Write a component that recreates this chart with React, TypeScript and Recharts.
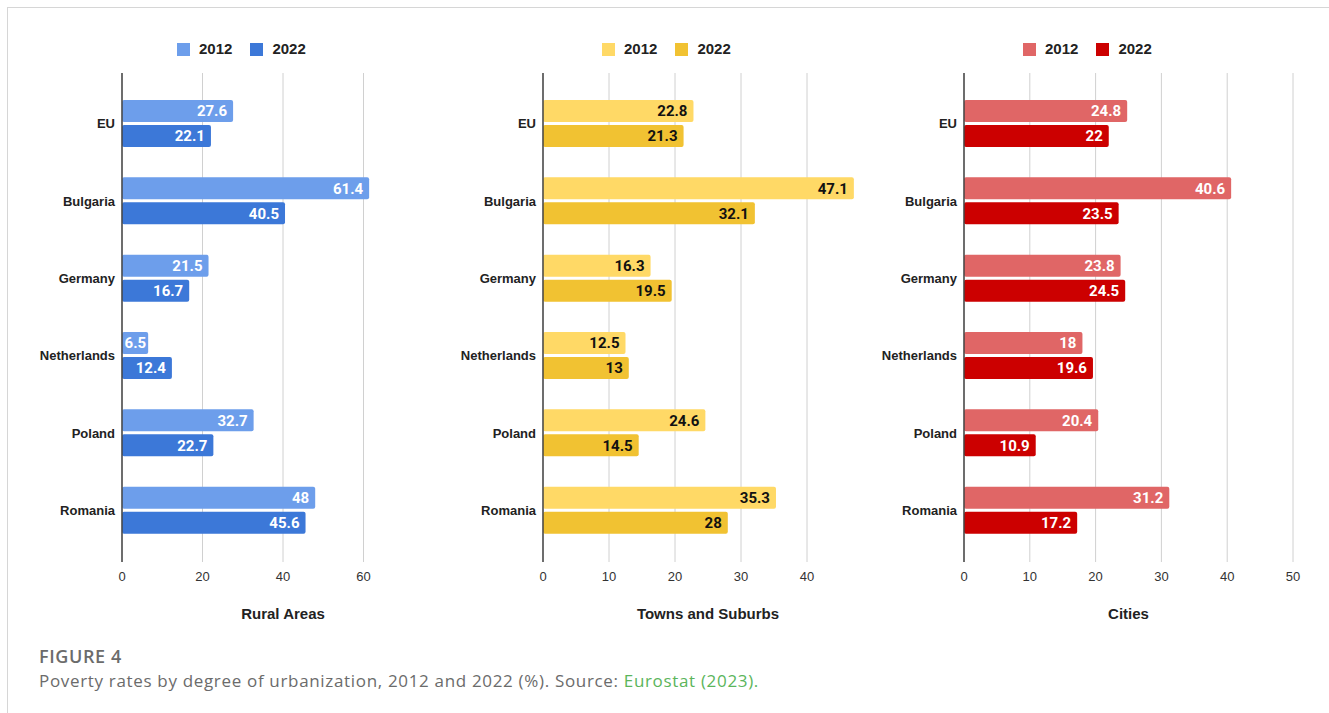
import React from "react"
import { BarChart, Bar, XAxis, YAxis, CartesianGrid, Legend, LabelList } from "recharts"

const categories = ["EU", "Bulgaria", "Germany", "Netherlands", "Poland", "Romania"]
const years = ["2012", "2022"]

const rural2012 = [27.6, 61.4, 21.5, 6.5, 32.7, 48]
const rural2022 = [22.1, 40.5, 16.7, 12.4, 22.7, 45.6]
const towns2012 = [22.8, 47.1, 16.3, 12.5, 24.6, 35.3]
const towns2022 = [21.3, 32.1, 19.5, 13, 14.5, 28]
const cities2012 = [24.8, 40.6, 23.8, 18, 20.4, 31.2]
const cities2022 = [22, 23.5, 24.5, 19.6, 10.9, 17.2]

const ruralTicks = [0, 20, 40, 60]
const townsTicks = [0, 10, 20, 30, 40]
const citiesTicks = [0, 10, 20, 30, 40, 50]

const AXIS_FONT = "'Liberation Sans', Arial, sans-serif"

interface PanelProps {
  title: string
  v2012: number[]
  v2022: number[]
  ticks: number[]
  max: number
  plotWidth: number
  colors: [string, string]
  labelColor: string
  left: number
  width: number
  axisWidth: number
  legendLeft: number
}

function LegendBox({ colors }: { colors: [string, string] }) {
  return (
    <div style={{ display: "flex", alignItems: "center" }}>
      {years.map((y, i) => (
        <div key={y} style={{ display: "flex", alignItems: "center", marginRight: i === 0 ? 18 : 0 }}>
          <span style={{ width: 13, height: 13, background: colors[i], display: "inline-block", marginRight: 9 }} />
          <span style={{ fontFamily: AXIS_FONT, fontWeight: 700, fontSize: 15, color: "#222", lineHeight: "16px" }}>{y}</span>
        </div>
      ))}
    </div>
  )
}

// value label at the right end inside the bar; short bars get less padding
const makeLabel = (color: string) => (props: any) => {
  const { x, y, width, height, value } = props
  const pad = width < 32 ? 2 : 6
  return (
    <text
      x={x + width - pad}
      y={y + height / 2}
      dy="0.36em"
      textAnchor="end"
      fill={color}
      style={{ fontWeight: 700, fontSize: 15, fontFamily: "Roboto, sans-serif" }}
    >
      {value}
    </text>
  )
}

function Panel(p: PanelProps) {
  const data = categories.map((c, i) => ({ name: c, y2012: p.v2012[i], y2022: p.v2022[i] }))
  // grid only at the labelled ticks (not at the domain end)
  const gridX = ({ offset }: any) => p.ticks.map((t) => offset.left + (t / p.max) * offset.width)
  return (
    <div style={{ position: "absolute", left: p.left, top: 0 }}>
      <BarChart
        width={p.width}
        height={622}
        data={data}
        layout="vertical"
        margin={{ top: 73, right: p.width - p.axisWidth - p.plotWidth, bottom: 0, left: 0 }}
        barSize={22}
        barGap={3}
      >
        <CartesianGrid horizontal={false} stroke="#d0d0d0" verticalCoordinatesGenerator={gridX} />
        <XAxis
          type="number"
          domain={[0, p.max]}
          ticks={p.ticks}
          allowDataOverflow
          axisLine={false}
          tickLine={false}
          tickSize={8}
          tickMargin={2}
          height={60}
          tick={{ fontSize: 13, fill: "#333", fontFamily: AXIS_FONT }}
          label={{
            value: p.title,
            position: "insideBottom",
            offset: 3,
            style: { fontFamily: AXIS_FONT, fontWeight: 700, fontSize: 15, fill: "#222" },
          }}
        />
        <YAxis
          type="category"
          dataKey="name"
          width={p.axisWidth}
          padding={{ top: 12, bottom: 13 }}
          axisLine={{ stroke: "#444", strokeWidth: 1.5 }}
          tickLine={false}
          tickSize={0}
          tickMargin={7}
          tick={{ fontSize: 13, fontWeight: 700, fill: "#222", fontFamily: AXIS_FONT }}
        />
        <Legend
          layout="horizontal"
          verticalAlign="middle"
          align="center"
          wrapperStyle={{ top: 41, left: p.legendLeft, width: "auto" }}
          content={() => <LegendBox colors={p.colors} />}
        />
        <Bar dataKey="y2012" name="2012" fill={p.colors[0]} radius={2} isAnimationActive={false}>
          <LabelList dataKey="y2012" content={makeLabel(p.labelColor)} />
        </Bar>
        <Bar dataKey="y2022" name="2022" fill={p.colors[1]} radius={2} isAnimationActive={false}>
          <LabelList dataKey="y2022" content={makeLabel(p.labelColor)} />
        </Bar>
      </BarChart>
    </div>
  )
}

export default function App() {
  return (
    <div style={{ position: "absolute", left: 0, top: 0, width: 1329, height: 713, background: "#fff", overflow: "hidden" }}>
      <div
        style={{
          position: "absolute",
          left: 7,
          top: 7,
          width: 1330,
          height: 720,
          borderTop: "1.5px solid #d6d6d6",
          borderLeft: "1.5px solid #d6d6d6",
        }}
      />
      <Panel
        title="Rural Areas"
        v2012={rural2012}
        v2022={rural2022}
        ticks={ruralTicks}
        max={80}
        plotWidth={322}
        colors={["#6d9eeb", "#3c78d8"]}
        labelColor="#fff"
        left={0}
        width={460}
        axisWidth={122}
        legendLeft={177}
      />
      <Panel
        title="Towns and Suburbs"
        v2012={towns2012}
        v2022={towns2022}
        ticks={townsTicks}
        max={50}
        plotWidth={330}
        colors={["#ffd966", "#f1c232"]}
        labelColor="#111"
        left={450}
        width={440}
        axisWidth={93}
        legendLeft={152}
      />
      <Panel
        title="Cities"
        v2012={cities2012}
        v2022={cities2022}
        ticks={citiesTicks}
        max={50}
        plotWidth={329}
        colors={["#e06666", "#cc0000"]}
        labelColor="#fff"
        left={870}
        width={450}
        axisWidth={94}
        legendLeft={153}
      />
      <div style={{ position: "absolute", left: 39, top: 645, fontFamily: "'Open Sans', sans-serif", color: "#6b6b6b" }}>
        <div style={{ fontSize: 18, fontWeight: 600, lineHeight: "23px", letterSpacing: 0.6 }}>FIGURE 4</div>
        <div style={{ fontSize: 17, lineHeight: "26px", letterSpacing: 0.67 }}>
          Poverty rates by degree of urbanization, 2012 and 2022 (%). Source:{" "}
          <span style={{ color: "#5bb55b" }}>Eurostat (2023).</span>
        </div>
      </div>
    </div>
  )
}
